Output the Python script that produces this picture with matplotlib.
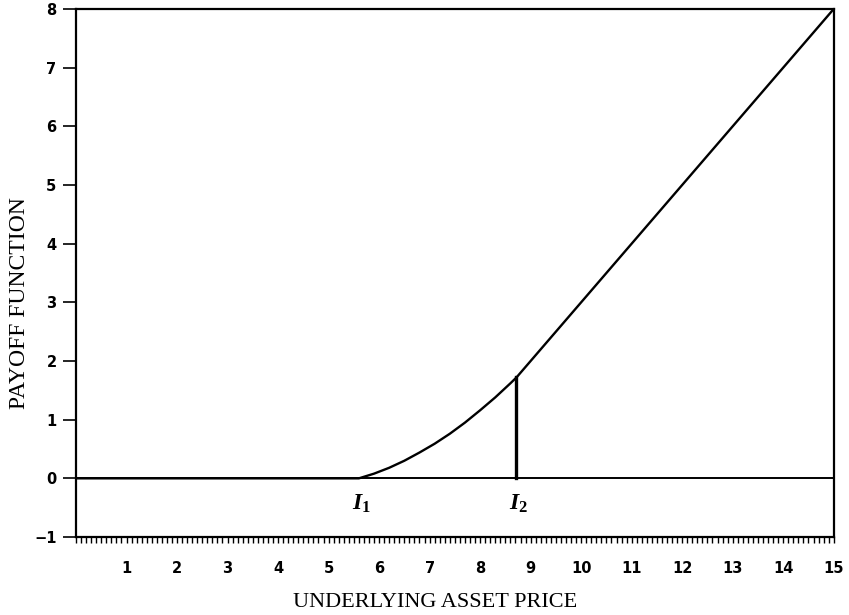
import numpy as np
import matplotlib
matplotlib.use("Agg")
import matplotlib.pyplot as plt
from matplotlib.ticker import MultipleLocator, FixedLocator

# Data
price = [0.0, 5.6, 5.9, 6.2, 6.5, 6.8, 7.1, 7.4, 7.7, 8.0, 8.3, 8.6, 8.72, 15.0]
payoff = [0.0, 0.0, 0.08, 0.18, 0.30, 0.44, 0.59, 0.76, 0.95, 1.16, 1.38, 1.62, 1.72, 8.0]
I1 = 5.6
I2 = 8.72
I2_payoff = 1.72
x_ticks = list(range(1, 16))
y_ticks = list(range(-1, 9))
x_label = "UNDERLYING ASSET PRICE"
y_label = "PAYOFF FUNCTION"

plt.rcParams['mathtext.fontset'] = 'custom'
plt.rcParams['mathtext.it'] = 'Liberation Serif:italic:bold'
plt.rcParams['mathtext.rm'] = 'Liberation Serif:bold'

fig = plt.figure(figsize=(8.49, 6.15), dpi=100)
ax = fig.add_axes([0.0895, 0.1268, 0.8925, 0.8586])

ax.axhline(0, color='black', lw=1.4, zorder=2)
ax.plot(price, payoff, color='black', lw=1.7, zorder=3)
ax.plot([I2, I2], [0, I2_payoff], color='black', lw=2.4, zorder=3)

ax.text(I1 + 0.05, -0.42, r'$I_1$', ha='center', va='center', fontsize=17)
ax.text(I2 + 0.05, -0.42, r'$I_2$', ha='center', va='center', fontsize=17)

ax.set_xlim(0, 15)
ax.set_ylim(-1, 8)
ax.xaxis.set_major_locator(FixedLocator(x_ticks))
ax.xaxis.set_minor_locator(MultipleLocator(0.1))
ax.yaxis.set_major_locator(FixedLocator(y_ticks))

for s in ax.spines.values():
    s.set_linewidth(1.6)

ax.tick_params(axis='x', which='both', direction='out', length=4, width=1.0, pad=13.5)
ax.tick_params(axis='y', which='major', direction='out', length=9.5, width=1.2, pad=4.5)
ax.set_xticklabels([str(v) for v in x_ticks], fontfamily='DejaVu Sans', fontweight='bold', fontsize=10.5)
ax.set_yticklabels(['\u22121' if v == -1 else str(v) for v in y_ticks], fontfamily='DejaVu Sans', fontweight='bold', fontsize=10.5)

fig.text(0.512, 0.020, x_label, ha='center', va='center', fontfamily='Liberation Serif', fontsize=16)
fig.text(0.023, 0.507, y_label, ha='center', va='center', rotation=90, fontfamily='Liberation Serif', fontsize=17)

fig.savefig('out.png', dpi=100)
